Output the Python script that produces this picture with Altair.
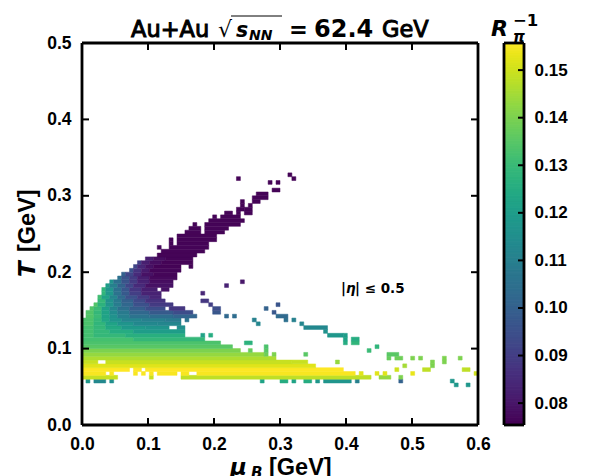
import altair as alt
import pandas as pd

MU_BIN = 0.006
T_BIN = 0.005
V_MIN = 0.0754
V_MAX = 0.1557
X_TICKS = [0.0, 0.1, 0.2, 0.3, 0.4, 0.5, 0.6]
Y_TICKS = [0.0, 0.1, 0.2, 0.3, 0.4, 0.5]
CB_TICKS = [0.08, 0.09, 0.10, 0.11, 0.12, 0.13, 0.14, 0.15]

# row index of T -> (first mu bin, last mu bin, value)
ROWS = {
    10: [(94, 94, .118), (97, 97, .118)],
    11: [(1, 1, .118), (3, 5, .113), (7, 7, .115), (45, 45, .122), (50, 51, .125), (53, 53, .122), (56, 57, .125),
         (59, 59, .118), (61, 67, .117), (69, 69, .110), (80, 80, .100), (93, 93, .118)],
    12: [(0, 8, .149), (17, 17, .149), (25, 72, .148), (75, 77, .143), (80, 80, .14)],
    13: [(0, 5, .155), (7, 7, .155), (13, 13, .155), (15, 15, .155), (17, 17, .155), (19, 23, .155), (25, 26, .155),
         (29, 68, .155), (70, 70, .152), (74, 74, .152), (76, 76, .152), (83, 83, .153), (99, 99, .15)],
    14: [(0, 11, .1557), (13, 14, .1557), (16, 65, .1557), (79, 79, .15), (86, 87, .148), (96, 97, .148)],
    15: [(0, 58, .152), (81, 81, .145), (88, 88, .14)],
    16: [(0, 3, .149), (6, 52, .149), (53, 56, .149), (64, 64, .143), (88, 88, .14), (91, 91, .14)],
    17: [(0, 48, .146), (77, 77, .137), (79, 80, .138), (83, 83, .14), (85, 85, .14), (91, 91, .14), (95, 95, .14)],
    18: [(0, 45, .143), (46, 46, .138), (48, 48, .14), (56, 56, .135), (77, 79, .135)],
    19: [(0, 39, .140), (42, 42, .137), (46, 46, .135), (72, 72, .13)],
    20: [(0, 37, .135), (46, 46, .133), (74, 74, .128)],
    21: [(0, 34, .133), (41, 42, .127), (66, 66, .125), (68, 69, .128)],
    22: [(0, 12, .132), (13, 30, .129), (66, 66, .122), (68, 69, .125)],
    23: [(0, 2, .132), (3, 10, .129), (11, 25, .126), (30, 30, .122), (32, 32, .125), (62, 65, .118), (66, 66, .12)],
    24: [(0, 2, .132), (3, 6, .129), (7, 12, .125), (13, 25, .120), (61, 61, .116)],
    25: [(0, 2, .132), (3, 5, .129), (6, 9, .124), (10, 15, .119), (16, 21, .117), (24, 25, .115), (56, 61, .113)],
    26: [(0, 2, .133), (3, 5, .128), (6, 8, .122), (9, 12, .117), (13, 18, .113), (19, 24, .112), (44, 44, .112),
         (55, 55, .112)],
    27: [(0, 2, .133), (3, 4, .129), (5, 6, .123), (7, 9, .117), (10, 14, .112), (15, 20, .110), (21, 24, .108),
         (26, 26, .106), (43, 43, .110), (51, 51, .105), (53, 53, .11)],
    28: [(1, 2, .134), (3, 4, .130), (5, 6, .122), (7, 8, .116), (9, 11, .110), (12, 16, .106), (17, 22, .104),
         (23, 28, .101), (36, 36, .102), (38, 38, .104), (49, 51, .103)],
    29: [(1, 2, .134), (3, 4, .129), (5, 6, .122), (7, 8, .114), (9, 11, .108), (12, 16, .102), (17, 22, .098),
         (23, 27, .094), (33, 34, .097), (48, 48, .097)],
    30: [(2, 2, .134), (3, 4, .130), (5, 6, .121), (7, 8, .112), (9, 11, .105), (12, 15, .099), (16, 20, .094),
         (22, 25, .088), (33, 34, .094), (46, 46, .1)],
    31: [(3, 3, .134), (4, 5, .127), (6, 7, .117), (8, 9, .109), (10, 12, .102), (13, 16, .095), (17, 22, .089),
         (32, 32, .09), (49, 49, .096)],
    32: [(4, 5, .129), (6, 7, .116), (8, 9, .108), (10, 12, .100), (13, 15, .093), (16, 20, .087), (30, 31, .088)],
    33: [(4, 4, .131), (5, 6, .122), (7, 8, .112), (9, 10, .103), (11, 13, .095), (14, 16, .089), (17, 19, .084)],
    34: [(5, 5, .128), (6, 7, .118), (8, 9, .106), (10, 11, .098), (12, 14, .090), (15, 19, .083), (30, 30, .084)],
    35: [(5, 5, .128), (6, 7, .117), (8, 9, .105), (10, 11, .097), (12, 14, .088), (15, 18, .082), (20, 21, .079)],
    36: [(6, 6, .12), (7, 8, .11), (9, 10, .100), (11, 12, .092), (13, 15, .085), (16, 22, .079), (36, 36, .083)],
    37: [(7, 7, .116), (8, 9, .105), (10, 11, .096), (12, 13, .089), (14, 16, .083), (17, 22, .078), (40, 40, .08)],
    38: [(9, 9, .105), (10, 11, .096), (12, 13, .089), (14, 16, .082), (17, 23, .077)],
    39: [(10, 10, .100), (11, 12, .092), (13, 14, .085), (15, 17, .079), (18, 23, .0765)],
    40: [(12, 12, .095), (13, 14, .087), (15, 16, .081), (17, 24, .0765)],
    41: [(13, 13, .092), (14, 15, .084), (16, 17, .079), (18, 24, .076), (27, 27, .076)],
    42: [(14, 14, .09), (15, 16, .082), (17, 19, .078), (20, 27, .076)],
    43: [(16, 17, .082), (18, 20, .078), (21, 27, .076)],
    44: [(19, 28, .076)],
    45: [(20, 30, .076)],
    46: [(19, 19, .077), (22, 31, .076)],
    47: [(22, 22, .076), (24, 31, .076)],
    48: [(22, 22, .076), (24, 33, .076)],
    49: [(24, 33, .076)],
    50: [(26, 29, .076), (31, 35, .076)],
    51: [(27, 29, .076), (31, 36, .076)],
    52: [(28, 28, .076), (31, 39, .076)],
    53: [(32, 40, .076)],
    54: [(33, 33, .076), (35, 39, .076)],
    55: [(36, 37, .076), (39, 39, .076), (41, 42, .076)],
    56: [(39, 40, .076), (41, 42, .076)],
    57: [(40, 40, .076), (42, 42, .076)],
    58: [(40, 40, .076), (43, 44, .076)],
    59: [(43, 46, .076)],
    60: [(44, 46, .076)],
    61: [(48, 49, .076)],
    63: [(47, 47, .076), (49, 49, .076)],
    64: [(39, 39, .076), (53, 53, .076)],
    65: [(52, 52, .076)],
}

records = []
for j, segs in ROWS.items():
    for i0, i1, v in segs:
        records.append({"x": i0 * MU_BIN, "x2": (i1 + 1) * MU_BIN,
                        "y": j * T_BIN, "y2": (j + 1) * T_BIN, "v": v})
cells = pd.DataFrame(records)

color_scale = alt.Scale(scheme="viridis", domain=[V_MIN, V_MAX])
xs = alt.Scale(domain=[0, 0.6], nice=False, zero=False)
ys = alt.Scale(domain=[0, 0.5], nice=False, zero=False)
LAB = "Liberation Sans"
DJ = "DejaVu Sans"
FRAME = 2.8
TICK_W = 2.0

heat = alt.Chart(cells).mark_rect(strokeWidth=0.5).encode(
    x=alt.X("x:Q", scale=xs, title=None,
            axis=alt.Axis(values=X_TICKS, format=".1f", ticks=False, domain=False, grid=False, labelFont=LAB,
                          labelFontWeight="bold", labelFontSize=17.5, labelColor="black", labelPadding=10,
                          labelFlush=False)),
    x2="x2:Q",
    y=alt.Y("y:Q", scale=ys, title=None,
            axis=alt.Axis(values=Y_TICKS, format=".1f", ticks=False, domain=False, grid=False, labelFont=LAB,
                          labelFontWeight="bold", labelFontSize=17.5, labelColor="black", labelPadding=11)),
    y2="y2:Q",
    color=alt.Color("v:Q", scale=color_scale, legend=None),
    stroke=alt.Stroke("v:Q", scale=color_scale, legend=None),
)

tx = pd.DataFrame({"v": X_TICKS})
ty = pd.DataFrame({"v": Y_TICKS})
tick_layers = [
    alt.Chart(tx).mark_rule(color="black", strokeWidth=TICK_W).encode(
        x=alt.X("v:Q", scale=xs), y=alt.value(382), y2=alt.value(375)),
    alt.Chart(tx).mark_rule(color="black", strokeWidth=TICK_W).encode(
        x=alt.X("v:Q", scale=xs), y=alt.value(0), y2=alt.value(7)),
    alt.Chart(ty).mark_rule(color="black", strokeWidth=TICK_W).encode(
        y=alt.Y("v:Q", scale=ys), x=alt.value(0), x2=alt.value(7)),
    alt.Chart(ty).mark_rule(color="black", strokeWidth=TICK_W).encode(
        y=alt.Y("v:Q", scale=ys), x=alt.value(396), x2=alt.value(389)),
]


def frame(w, h):
    one = pd.DataFrame({"a": [0]})
    return [
        alt.Chart(one).mark_rule(color="black", strokeWidth=FRAME).encode(x=alt.value(0), y=alt.value(0), y2=alt.value(h)),
        alt.Chart(one).mark_rule(color="black", strokeWidth=FRAME).encode(x=alt.value(w), y=alt.value(0), y2=alt.value(h)),
        alt.Chart(one).mark_rule(color="black", strokeWidth=FRAME).encode(y=alt.value(0), x=alt.value(0), x2=alt.value(w)),
        alt.Chart(one).mark_rule(color="black", strokeWidth=FRAME).encode(y=alt.value(h), x=alt.value(0), x2=alt.value(w)),
    ]


def label(text, px, py, size, font=DJ, weight="bold", style="normal", angle=0, ox=83, oy=42, sw=0.0):
    one = pd.DataFrame({"t": [text]})
    kw = {"stroke": "black", "strokeWidth": sw} if sw else {}
    return alt.Chart(one).mark_text(align="left", baseline="alphabetic", font=font, fontWeight=weight,
                                    fontStyle=style, fontSize=size, angle=angle, color="black", **kw).encode(
        x=alt.value(px - ox), y=alt.value(py - oy), text="t:N")


texts = [
    label("Au+Au", 132, 36, 22.5, weight="normal", sw=1.0),
    label("√", 219, 36, 22, weight="normal"),
    label("s", 237, 36, 20.5, style="italic"),
    label("NN", 250, 39, 14, style="italic"),
    label("=", 290, 36, 22.5),
    label("62.4", 315, 36, 24),
    label("GeV", 383, 36, 22.5, weight="normal", sw=1.0),
    alt.Chart(pd.DataFrame({"a": [0]})).mark_rule(color="black", strokeWidth=1).encode(
        x=alt.value(232 - 83), x2=alt.value(283 - 83), y=alt.value(15 - 42)),
    label("|", 342, 292, 13.5),
    label("η", 347, 292, 13.5, style="italic"),
    label("| ≤ 0.5", 356, 292, 13.5),
    label("T", 36, 276, 23, style="italic", angle=270),
    label("[GeV]", 36, 251, 23.5, font=LAB, angle=270),
    label("μ", 231, 474, 23, style="italic"),
    label("B", 252, 477, 15, style="italic"),
    label("[GeV]", 270, 474, 23.5, font=LAB),
]

main = alt.layer(heat, *frame(396, 382), *tick_layers, *texts).properties(width=396, height=382)

# colour bar
CB_N = 160
cb_step = (V_MAX - V_MIN) / CB_N
cb = pd.DataFrame({"lo": [V_MIN + k * cb_step for k in range(CB_N)]})
cb["hi"] = cb["lo"] + cb_step
cs = alt.Scale(domain=[V_MIN, V_MAX], nice=False, zero=False)
bar = alt.Chart(cb).mark_rect(strokeWidth=1).encode(
    x=alt.value(0), x2=alt.value(20),
    y=alt.Y("lo:Q", scale=cs, title=None,
            axis=alt.Axis(orient="right", values=CB_TICKS, format=".2f", ticks=False, domain=False, grid=False,
                          labelFont=LAB, labelFontWeight="bold", labelFontSize=17, labelColor="black",
                          labelPadding=10)),
    y2="hi:Q",
    color=alt.Color("lo:Q", scale=color_scale, legend=None),
    stroke=alt.Stroke("lo:Q", scale=color_scale, legend=None),
)
cb_ticks = alt.Chart(pd.DataFrame({"v": CB_TICKS})).mark_rule(color="black", strokeWidth=TICK_W).encode(
    y=alt.Y("v:Q", scale=cs), x=alt.value(14), x2=alt.value(20))
cb_texts = [
    label("R", 490, 35, 22, style="italic", ox=503),
    label("−1", 512, 25, 16.5, ox=503),
    label("π", 512, 41, 15, style="italic", ox=503),
]
colorbar = alt.layer(bar, cb_ticks, *frame(20, 382), *cb_texts).properties(width=20, height=382)

chart = alt.hconcat(main, colorbar, spacing=0).configure_view(stroke=None).properties(
    padding={"left": 8, "top": 5, "right": 0, "bottom": 0}, background="white")

chart.save("out.html", embed_options={"renderer": "svg", "actions": False})
